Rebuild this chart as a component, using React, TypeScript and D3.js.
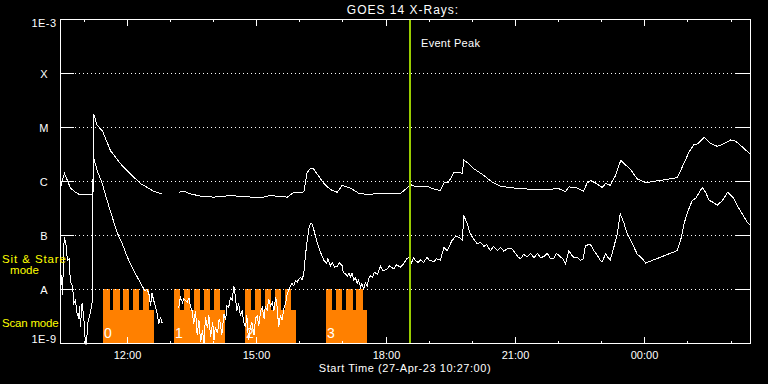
import React from "react";
import * as d3 from "d3";

// ---------- DATA ----------
// GOES 14 X-ray flux, [hour of 27-Apr-23 (>=24 means next day), log10 flux W/m^2]; null = data gap
const longChannel: [number, number | null][] = [
  [10.45, -6.11], [10.54, -5.85], [10.61, -5.98], [10.68, -6.12], [10.8, -6.2], [10.91, -6.25],
  [11.19, -6.24], [11.2, -6.24], [11.22, -4.75], [11.3, -4.96], [11.42, -5.06], [11.61, -5.43],
  [11.84, -5.67], [12.07, -5.86], [12.31, -6.04], [12.46, -6.11], [12.61, -6.18], [12.81, -6.23],
  [13.0, null],
  [13.19, -6.2], [13.31, -6.18], [13.46, -6.23], [13.7, -6.27], [14.0, -6.29], [14.39, -6.26],
  [14.7, -6.28], [15.09, -6.3], [15.32, -6.26], [15.71, -6.29], [15.86, -6.2], [16.06, -6.2],
  [16.1, -6.17], [16.17, -5.83], [16.26, -5.75], [16.32, -5.77], [16.4, -5.86], [16.56, -6.04],
  [16.71, -6.15], [16.87, -6.2], [16.98, -6.07], [17.17, -6.12], [17.37, -6.22], [17.56, -6.24],
  [17.87, -6.22], [18.1, -6.23], [18.33, -6.22], [18.49, -6.12], [18.57, -6.06], [18.68, -6.09],
  [18.95, -6.09], [19.11, -6.14], [19.26, -6.17], [19.34, -6.03], [19.45, -6.01], [19.57, -5.84],
  [19.69, -5.83], [19.77, -5.85], [19.8, -5.6], [19.92, -5.67], [20.03, -5.76], [20.27, -5.89],
  [20.46, -6.01], [20.65, -6.09], [20.96, -6.12], [21.43, -6.15], [21.81, -6.15], [21.97, -6.12],
  [22.16, -6.19], [22.24, -6.1], [22.43, -6.12], [22.58, -6.18], [22.66, -6.03], [22.74, -5.98],
  [22.86, -6.03], [23.01, -6.11], [23.09, -6.04], [23.2, -6.07], [23.32, -5.89], [23.44, -5.61],
  [23.55, -5.69], [23.67, -5.78], [23.82, -5.95], [23.94, -5.99], [24.02, -6.02], [24.36, -5.98],
  [24.75, -5.93], [24.83, -5.8], [25.02, -5.46], [25.14, -5.31], [25.21, -5.31], [25.38, -5.18],
  [25.52, -5.29], [25.68, -5.35], [25.83, -5.3], [25.99, -5.23], [26.1, -5.25], [26.26, -5.36],
  [26.45, -5.5],
];

const shortChannel: [number, number | null][] = [
  [10.45, -8.2], [10.47, -7.74], [10.5, -8.11], [10.52, -7.28], [10.54, -7.02], [10.58, -7.19],
  [10.61, -7.46], [10.65, -7.43], [10.68, -7.86], [10.73, -7.93], [10.76, -8.26], [10.8, -8.2],
  [10.82, -8.39], [10.87, -8.54], [10.89, -8.3], [10.91, -8.69], [10.95, -8.26], [10.99, -8.51],
  [11.03, -9.04], [11.05, -9.04], [11.08, -8.63], [11.11, -8.54], [11.15, -8.39], [11.19, -8.2],
  [11.21, -5.37], [11.23, -5.61], [11.26, -5.67], [11.3, -5.8], [11.42, -6.04], [11.53, -6.35],
  [11.65, -6.66], [11.76, -6.94], [11.88, -7.15], [12.0, -7.4], [12.11, -7.59], [12.23, -7.77],
  [12.34, -7.93], [12.4, -8.02], [12.46, -8.0], [12.5, -8.08], [12.54, -8.3], [12.57, -8.06],
  [12.61, -8.2], [12.65, -8.31], [12.69, -8.44], [12.73, -8.64], [12.77, -8.51], [12.81, -8.63],
  [13.0, null],
  [13.19, -8.35], [13.23, -8.14], [13.28, -8.24], [13.31, -8.17], [13.39, -8.24], [13.43, -8.15],
  [13.46, -8.3], [13.5, -8.39], [13.54, -8.64], [13.58, -8.39], [13.62, -8.85], [13.66, -8.57],
  [13.7, -8.98], [13.74, -8.76], [13.78, -9.0], [13.81, -8.51], [13.86, -8.72], [13.89, -8.48],
  [13.93, -8.88], [13.98, -8.61], [14.01, -8.94], [14.04, -8.7], [14.09, -8.81], [14.13, -8.54],
  [14.16, -8.64], [14.19, -8.85], [14.24, -8.45], [14.28, -8.57], [14.31, -8.3], [14.35, -8.33],
  [14.39, -8.15], [14.43, -8.2], [14.47, -7.93], [14.51, -8.17], [14.54, -8.39], [14.58, -8.26],
  [14.62, -8.48], [14.66, -8.39], [14.7, -8.61], [14.74, -8.7], [14.77, -8.48], [14.81, -8.94],
  [14.86, -8.67], [14.89, -8.61], [14.94, -8.85], [14.97, -8.54], [15.01, -8.48], [15.05, -8.67],
  [15.09, -8.39], [15.13, -8.33], [15.17, -8.54], [15.2, -8.3], [15.24, -8.39], [15.28, -8.17],
  [15.32, -8.31], [15.36, -8.24], [15.4, -8.39], [15.44, -8.14], [15.47, -8.3], [15.51, -8.7],
  [15.55, -8.48], [15.59, -8.57], [15.63, -8.35], [15.67, -8.26], [15.7, -8.11], [15.74, -8.02],
  [15.78, -7.93], [15.82, -7.89], [15.86, -7.93], [15.9, -7.83], [15.94, -7.86], [15.98, -7.8],
  [16.02, -7.77], [16.05, -7.83], [16.09, -7.71], [16.13, -7.37], [16.17, -7.09], [16.21, -6.87],
  [16.25, -6.78], [16.28, -6.78], [16.32, -6.88], [16.37, -7.04], [16.44, -7.22], [16.49, -7.33],
  [16.56, -7.46], [16.62, -7.52], [16.65, -7.43], [16.71, -7.56], [16.76, -7.5], [16.8, -7.59],
  [16.87, -7.57], [16.92, -7.5], [16.98, -7.56], [17.01, -7.69], [17.06, -7.71], [17.1, -7.76],
  [17.14, -7.69], [17.17, -7.77], [17.21, -7.7], [17.25, -7.83], [17.29, -7.78], [17.33, -7.89],
  [17.36, -7.83], [17.41, -7.96], [17.44, -7.89], [17.48, -7.99], [17.52, -7.87], [17.56, -7.94],
  [17.6, -7.8], [17.64, -7.74], [17.68, -7.78], [17.73, -7.68], [17.8, -7.72], [17.87, -7.57],
  [17.93, -7.65], [18.03, -7.62], [18.08, -7.56], [18.18, -7.62], [18.24, -7.54], [18.33, -7.59],
  [18.41, -7.52], [18.47, -7.44], [18.53, -7.4], [18.59, -7.5], [18.64, -7.41], [18.68, -7.46],
  [18.74, -7.5], [18.8, -7.45], [18.87, -7.5], [18.95, -7.4], [19.0, -7.46], [19.11, -7.48],
  [19.17, -7.43], [19.26, -7.46], [19.34, -7.22], [19.42, -7.28], [19.47, -7.19], [19.53, -7.09],
  [19.61, -7.02], [19.69, -7.03], [19.77, -7.09], [19.8, -6.63], [19.88, -6.78], [19.94, -6.94],
  [20.0, -7.03], [20.05, -7.09], [20.11, -7.15], [20.19, -7.13], [20.27, -7.2], [20.33, -7.17],
  [20.42, -7.28], [20.49, -7.2], [20.58, -7.28], [20.65, -7.22], [20.73, -7.29], [20.82, -7.24],
  [20.92, -7.25], [21.0, -7.33], [21.05, -7.39], [21.12, -7.43], [21.19, -7.35], [21.27, -7.4],
  [21.35, -7.33], [21.43, -7.41], [21.51, -7.33], [21.58, -7.41], [21.66, -7.39], [21.74, -7.33],
  [21.81, -7.43], [21.89, -7.43], [21.95, -7.33], [22.05, -7.4], [22.1, -7.43], [22.16, -7.52],
  [22.24, -7.28], [22.29, -7.35], [22.36, -7.41], [22.44, -7.41], [22.51, -7.46], [22.57, -7.43],
  [22.62, -7.19], [22.69, -7.17], [22.74, -7.17], [22.82, -7.28], [22.9, -7.37], [22.97, -7.46],
  [23.01, -7.49], [23.09, -7.34], [23.15, -7.41], [23.2, -7.45], [23.28, -7.22], [23.36, -6.97],
  [23.43, -6.6], [23.52, -6.78], [23.59, -6.97], [23.71, -7.15], [23.82, -7.34], [23.94, -7.43],
  [24.02, -7.51], [24.75, -7.28], [24.83, -7.09], [24.91, -6.78], [24.99, -6.57], [25.1, -6.35],
  [25.18, -6.31], [25.33, -6.11], [25.41, -6.2], [25.49, -6.35], [25.57, -6.38], [25.68, -6.44],
  [25.8, -6.35], [25.92, -6.2], [25.97, -6.24], [26.06, -6.31], [26.14, -6.44], [26.26, -6.6],
  [26.37, -6.75], [26.45, -6.81],
];

// Observation blocks (scan mode) and sit & stare intervals inside them
const obsBlocks: [string, string][] = [
  ["11:27", "12:38"], ["13:06", "14:16"], ["14:44", "15:55"], ["16:37", "17:34"],
];
const blockLabels = ["0", "1", "2", "3"];
const sitStare: [string, string][] = [
  ["11:27", "11:36"], ["11:41", "11:50"], ["11:55", "12:03"], ["12:09", "12:17"], ["12:22", "12:31"],
  ["13:06", "13:14"], ["13:19", "13:28"], ["13:33", "13:42"], ["13:47", "13:56"], ["14:01", "14:10"],
  ["14:44", "14:53"], ["14:58", "15:07"], ["15:12", "15:21"], ["15:26", "15:35"], ["15:40", "15:49"],
  ["16:37", "16:46"], ["16:51", "17:00"], ["17:05", "17:14"], ["17:19", "17:28"],
];

const levelValues = [1e-9, 1e-8, 1e-7, 1e-6, 1e-5, 1e-4, 1e-3];
const levelLabels = ["1E-9", "A", "B", "C", "M", "X", "1E-3"];
const hourTicks = [11, 12, 13, 14, 15, 16, 17, 18, 19, 20, 21, 22, 23, 24, 25, 26];
const majorHours = [12, 15, 18, 21, 24];
const majorLabels = ["12:00", "15:00", "18:00", "21:00", "00:00"];
const startHour = 10.45; // 10:27
const endHour = 26.45; // 02:27 next day
const eventPeak = "18:34";
const title = "GOES 14 X-Rays:";
const xTitle = "Start Time (27-Apr-23 10:27:00)";

// ---------- LAYOUT ----------
const W = 768, H = 384;
const L = 60, R = 750, T = 19, B = 343;
const SCAN_TOP = 310;
const FONT = "'Liberation Sans', Arial, sans-serif";
const ORANGE = "#ff8000";
const GREEN = "#99cc00";

const hm = (s: string) => {
  const [h, m] = s.split(":").map(Number);
  return h + m / 60;
};

export default function App() {
  const x = d3.scaleLinear().domain([startHour, endHour]).range([L, R]);
  const y = d3.scaleLog().domain([1e-9, 1e-3]).range([B, T]);

  const line = d3
    .line<[number, number | null]>()
    .defined((d) => d[1] !== null)
    .x((d) => x(d[0]))
    .y((d) => y(Math.pow(10, d[1] as number)));

  const yA = y(1e-8);
  const peakX = Math.round(x(hm(eventPeak)));

  return (
    <svg
      width={W}
      height={H}
      style={{ position: "fixed", left: 0, top: 0, background: "#000" }}
      fontFamily={FONT}
    >
      <rect x={0} y={0} width={W} height={H} fill="#000" />
      <defs>
        <clipPath id="plotClip">
          <rect x={L} y={T} width={R - L + 1} height={B - T + 1} />
        </clipPath>
      </defs>

      {/* orange observation blocks */}
      <g fill={ORANGE} shapeRendering="crispEdges">
        {obsBlocks.map(([s, e], i) => (
          <rect key={"b" + i} x={Math.round(x(hm(s)))} y={SCAN_TOP}
            width={Math.round(x(hm(e))) - Math.round(x(hm(s)))} height={B - SCAN_TOP} />
        ))}
        {sitStare.map(([s, e], i) => (
          <rect key={"t" + i} x={Math.round(x(hm(s)))} y={yA}
            width={Math.round(x(hm(e))) - Math.round(x(hm(s)))} height={SCAN_TOP - yA + 1} />
        ))}
      </g>
      <g fill="#fff" fontSize={14}>
        {obsBlocks.map(([s], i) => (
          <text key={"l" + i} x={Math.round(x(hm(s))) + 1} y={338}>{blockLabels[i]}</text>
        ))}
      </g>

      {/* dotted grid + long ticks */}
      <g stroke="#fff" shapeRendering="crispEdges">
        {levelValues.slice(1, -1).map((v, i) => (
          <g key={"g" + i}>
            <line x1={75} x2={736} y1={y(v) + 0.5} y2={y(v) + 0.5} strokeDasharray="1 3" />
            <line x1={L} x2={L + 14} y1={y(v) + 0.5} y2={y(v) + 0.5} />
            <line x1={R - 14} x2={R} y1={y(v) + 0.5} y2={y(v) + 0.5} />
          </g>
        ))}
      </g>

      {/* curves */}
      <g clipPath="url(#plotClip)" fill="none" stroke="#fff" strokeWidth={1}
        transform="translate(0.5,0.5)" shapeRendering="crispEdges">
        <path d={line(longChannel) || ""} />
        <path d={line(shortChannel) || ""} />
      </g>

      {/* event peak */}
      <line x1={peakX} x2={peakX} y1={T} y2={B + 1} stroke={GREEN} strokeWidth={2} shapeRendering="crispEdges" />
      <text x={421} y={47} fill="#fff" fontSize={11} letterSpacing={0.3}>Event Peak</text>

      {/* frame and time ticks */}
      <g stroke="#fff" shapeRendering="crispEdges" fill="none">
        <rect x={L + 0.5} y={T + 0.5} width={R - L} height={B - T} />
        {hourTicks.map((h) => {
          const len = majorHours.includes(h) ? 7 : 3;
          const xx = Math.round(x(h)) + 0.5;
          return (
            <g key={"h" + h}>
              <line x1={xx} x2={xx} y1={T} y2={T + len} />
              <line x1={xx} x2={xx} y1={B + 1} y2={B + 1 - len} />
            </g>
          );
        })}
      </g>

      {/* texts */}
      <g fill="#fff" fontSize={11} textAnchor="middle">
        {majorHours.map((h, i) => (
          <text key={"ml" + i} x={Math.round(x(h)) + 0.5} y={359}>{majorLabels[i]}</text>
        ))}
        {levelValues.map((v, i) => {
          const yy = i === 0 ? B : i === levelValues.length - 1 ? T + 8 : y(v) + 4.5;
          return (
            <text key={"yl" + i} x={44} y={yy} letterSpacing={0.4}>{levelLabels[i]}</text>
          );
        })}
        <text x={405} y={372} letterSpacing={0.55}>{xTitle}</text>
        <text x={403} y={14} fontSize={12} letterSpacing={1}>{title}</text>
      </g>

      <g fill="#ffff00" fontSize={11.5}>
        <text x={2} y={263} letterSpacing={0.9}>Sit &amp; Stare</text>
        <text x={24.5} y={274} textAnchor="middle">mode</text>
        <text x={2} y={327} letterSpacing={-0.2}>Scan mode</text>
      </g>
    </svg>
  );
}
